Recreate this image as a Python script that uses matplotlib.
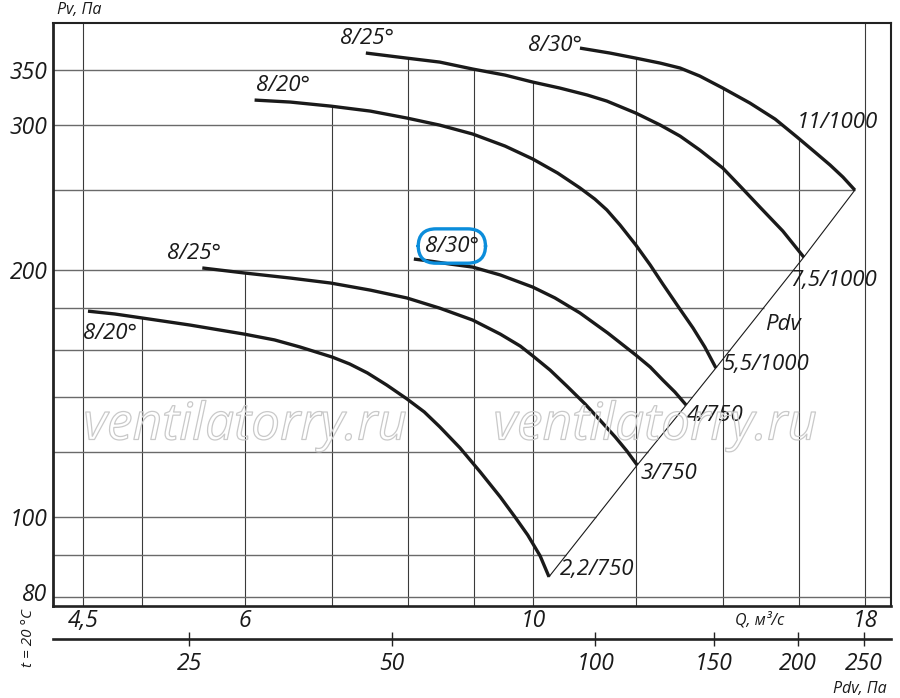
import numpy as np
import matplotlib
matplotlib.use('Agg')
import matplotlib.pyplot as plt
from matplotlib.ticker import NullLocator
import matplotlib.patheffects as pe
import matplotlib.transforms as mtransforms

# ---------------- data ----------------
# lower group (750 rpm)
q_a20_750 = [4.54, 4.76, 5.0, 5.44, 5.99, 6.32, 6.61, 7.0, 7.22, 7.45, 7.71, 7.99, 8.24,
             8.47, 8.78, 9.10, 9.43, 9.68, 9.90, 10.12, 10.28]
p_a20_750 = [178.2, 176.8, 174.8, 171.4, 167.1, 164.4, 161.2, 156.7, 153.7, 149.9, 144.9,
             139.4, 134.4, 128.9, 121.5, 113.6, 105.9, 100.1, 95.2, 89.8, 84.7]
q_a25_750 = [5.56, 5.99, 6.50, 6.98, 7.49, 7.99, 8.47, 8.98, 9.43, 9.77, 9.99, 10.30, 10.61,
             10.96, 11.25, 11.56, 11.80, 12.02]
p_a25_750 = [201.1, 198.3, 195.5, 192.8, 189.0, 184.9, 179.7, 173.8, 167.1, 161.6, 157.2,
             151.1, 144.5, 137.4, 131.4, 125.3, 120.5, 115.8]
q_a30_750 = [8.09, 8.33, 8.63, 8.98, 9.43, 9.99, 10.39, 10.86, 11.41, 11.99, 12.30, 12.58,
             12.85, 13.11]
p_a30_750 = [206.2, 205.0, 203.3, 201.6, 197.2, 190.6, 184.9, 177.3, 167.6, 157.6, 152.4,
             146.9, 142.1, 137.0]
# upper group (1000 rpm)
q_a20_1000 = [6.10, 6.50, 6.98, 7.49, 7.99, 8.47, 8.98, 9.51, 9.99, 10.44, 10.86, 11.15, 11.39,
              11.66, 11.99, 12.30, 12.58, 12.92, 13.27, 13.55, 13.82]
p_a20_1000 = [321.8, 320.0, 316.4, 312.0, 306.0, 300.0, 292.6, 282.9, 272.8, 262.3, 251.6,
              243.9, 236.6, 226.8, 214.5, 202.8, 192.2, 180.7, 170.0, 161.2, 152.0]
q_a25_1000 = [7.43, 7.99, 8.47, 8.98, 9.51, 9.99, 10.48, 11.00, 11.39, 11.99, 12.52, 12.97,
              13.43, 13.99, 14.47, 14.94, 15.56, 16.15]
p_a25_1000 = [367.1, 361.9, 357.9, 351.0, 345.1, 338.4, 332.8, 326.4, 320.9, 310.3, 300.1,
              290.9, 279.8, 266.0, 251.6, 238.5, 223.0, 207.3]
q_a30_1000 = [10.86, 11.45, 11.99, 12.52, 12.97, 13.43, 13.99, 14.68, 15.35, 15.96, 16.47,
              16.92, 17.31, 17.68]
p_a30_1000 = [372.2, 367.1, 361.9, 356.9, 352.0, 344.2, 332.8, 319.1, 305.1, 290.1, 278.2,
              268.3, 259.4, 250.1]

angle_labels = ["8/20°", "8/25°", "8/30°", "8/20°", "8/25°", "8/30°"]
motor_labels = ["2,2/750", "3/750", "4/750", "5,5/1000", "7,5/1000", "11/1000"]

q_grid = [4.5, 5, 6, 7, 8, 9, 10, 12, 14, 16, 18]
p_grid = [80, 90, 100, 120, 140, 160, 180, 200, 250, 300, 350]
q_ticks = [4.5, 6, 10, 18]
q_ticklabels = ["4,5", "6", "10", "18"]
p_ticks = [80, 100, 200, 300, 350]
p_ticklabels = ["80", "100", "200", "300", "350"]
pdv_ticks = [25, 50, 100, 150, 200, 250]
pdv_ticklabels = ["25", "50", "100", "150", "200", "250"]

# ---------------- style ----------------
plt.rcParams['font.family'] = ['Open Sans', 'DejaVu Sans']
plt.rcParams['font.style'] = 'italic'
TXT = '#1a1a1a'
W, H = 900, 698

curves = [(q_a20_750, p_a20_750), (q_a25_750, p_a25_750), (q_a30_750, p_a30_750),
          (q_a20_1000, p_a20_1000), (q_a25_1000, p_a25_1000), (q_a30_1000, p_a30_1000)]

fig = plt.figure(figsize=(W / 100, H / 100), dpi=100)
L, R, T, B = 53, 891, 23, 606
ax = fig.add_axes([L / W, 1 - B / H, (R - L) / W, (B - T) / H])
ax.set_xscale('log')
ax.set_yscale('log')
xlim = (4.267, 18.85)
ylim = (78.05, 399.3)
ax.set_xlim(*xlim)
ax.set_ylim(*ylim)

# Pdv diagonal through curve ends
pdv_q = [c[0][-1] for c in curves]
pdv_p = [c[1][-1] for c in curves]
order = np.argsort(pdv_q)
pdv_q = list(np.array(pdv_q)[order])
pdv_p = list(np.array(pdv_p)[order])

# vertical grid lines (below the top-most curve)
for q in q_grid:
    tops = [10 ** np.interp(np.log10(q), np.log10(qs), np.log10(ps))
            for qs, ps in curves if qs[0] <= q <= qs[-1]]
    top = max(tops) if tops else ylim[1]
    ax.vlines(q, ylim[0], top, color='#3a3a3a', lw=0.8, zorder=1)

# horizontal grid lines (left of the right-most curve / Pdv line)
for p in p_grid:
    rights = []
    for qs, ps in curves + [(pdv_q, pdv_p)]:
        lp = np.log10(ps)
        lq = np.log10(qs)
        if min(ps) <= p <= max(ps):
            o = np.argsort(lp)
            rights.append(10 ** np.interp(np.log10(p), lp[o], lq[o]))
    right = max(rights) if rights else xlim[1]
    ax.hlines(p, xlim[0], right, color='#6a6a6a', lw=1.0, zorder=1)

# watermark
for xc in (245, 655):
    fig.text(xc / W, 1 - 426 / H, "ventilatorry.ru", fontsize=37, style='italic',
             color=(1, 1, 1, 0), ha='center', va='center', zorder=2,
             path_effects=[pe.Stroke(linewidth=0.9, foreground='#c9c9c9')])

# curves
for qs, ps in curves:
    ax.plot(qs, ps, color='#1a1a1a', lw=2.4, solid_capstyle='butt',
            solid_joinstyle='round', zorder=4)
ax.plot(pdv_q, pdv_p, color='#1a1a1a', lw=0.8, zorder=3)

# start labels
start_off = [(22, -22), (-8, 14), (38, 13), (28, 15), (1, 15), (-25, 3)]
for i, (qs, ps) in enumerate(curves):
    kw = {}
    if i == 2:
        kw['bbox'] = dict(boxstyle='round,pad=0.3,rounding_size=0.8', fc='none',
                          ec='#0b8ddb', lw=2.4)
    ax.annotate(angle_labels[i], xy=(qs[0], ps[0]), xytext=start_off[i],
                textcoords='offset pixels', ha='center', va='center',
                fontsize=16, color=TXT, zorder=6, **kw)

# end labels
end_off = [(11, 7), (3, -8), (1, -10), (6, 3), (-14, -23), (-58, 68)]
for i, (qs, ps) in enumerate(curves):
    ax.annotate(motor_labels[i], xy=(qs[-1], ps[-1]), xytext=end_off[i],
                textcoords='offset pixels', ha='left', va='center',
                fontsize=16, color=TXT, zorder=6)

fig.text(783 / W, 1 - 324 / H, "Pdv", fontsize=16, color=TXT, ha='center', va='center')

# axes styling
for s, lw in (('left', 2.0), ('bottom', 1.9), ('top', 1.5), ('right', 1.5)):
    ax.spines[s].set_linewidth(lw)
    ax.spines[s].set_color('#222222')
ax.xaxis.set_minor_locator(NullLocator())
ax.yaxis.set_minor_locator(NullLocator())
ax.set_xticks(q_ticks)
ax.set_xticklabels(q_ticklabels)
ax.set_yticks(p_ticks)
ax.set_yticklabels(p_ticklabels)
ax.tick_params(axis='both', length=0, labelsize=16.5, labelcolor=TXT)
ax.tick_params(axis='x', pad=2)
ax.tick_params(axis='y', pad=4)
# lift the "80" label slightly, as in the reference
lab80 = ax.get_yticklabels()[0]
lab80.set_transform(lab80.get_transform() +
                    mtransforms.ScaledTranslation(0, 5 / 100, fig.dpi_scale_trans))

fig.text(760 / W, 1 - 620 / H, "Q, м³/с", fontsize=11.5, color=TXT, ha='center', va='center')
fig.text(79 / W, 1 - 10 / H, "Pv, Па", fontsize=11.5, color=TXT, ha='center', va='center')
fig.text(860 / W, 1 - 689 / H, "Pdv, Па", fontsize=11.5, color=TXT, ha='center', va='center')
fig.text(28 / W, 1 - 638 / H, "t = 20 °C", fontsize=11, color=TXT, ha='center',
         va='center', rotation=90)

# Pdv scale
ax2 = fig.add_axes([L / W, 1 - 639 / H, (R - L) / W, 0.0001])
ax2.set_xscale('log')
ax2.set_xlim(15.7, 274.5)
ax2.set_yticks([])
for s in ('top', 'left', 'right'):
    ax2.spines[s].set_visible(False)
ax2.spines['bottom'].set_linewidth(1.9)
ax2.spines['bottom'].set_color('#222222')
ax2.patch.set_visible(False)
ax2.xaxis.set_minor_locator(NullLocator())
ax2.set_xticks(pdv_ticks)
ax2.set_xticklabels(pdv_ticklabels)
ax2.tick_params(axis='x', direction='inout', length=10, width=1.0, color='#222222',
                labelsize=16.5, labelcolor=TXT, pad=4)

fig.savefig('out.png', dpi=100)
